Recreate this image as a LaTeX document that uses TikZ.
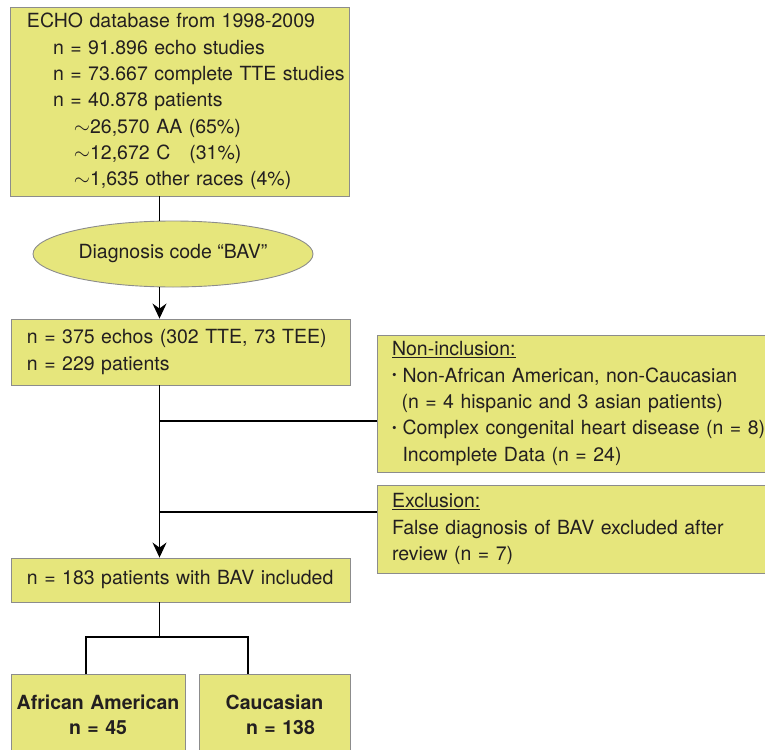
\documentclass[tikz,border=0pt]{standalone}
\usepackage{fontspec}
\setmainfont{TeX Gyre Heros}
\usetikzlibrary{shapes.geometric,arrows.meta}
\definecolor{boxfill}{RGB}{230,230,124}
\definecolor{boxline}{RGB}{140,140,140}
\definecolor{ink}{RGB}{35,31,32}
\newcommand{\smbul}{\makebox[10.5pt][l]{\raisebox{2.2pt}{\fontsize{13}{13}\selectfont\textbullet}}}
\tikzset{
  flowbox/.style={draw=boxline,fill=boxfill,line width=0.9pt,rectangle,align=left,
    inner ysep=0pt,text=ink,font={\fontsize{19.5pt}{26.3pt}\selectfont}},
  groupbox/.style={flowbox,align=center,font={\fontsize{19.5pt}{25pt}\selectfont\bfseries}},
  link/.style={line width=1.2pt,black},
  linkarrow/.style={link,-{Stealth[length=15pt,width=14pt,inset=5pt]}}
}
\begin{document}
\begin{tikzpicture}[x=1pt,y=-1pt]
        \useasboundingbox (0,0) rectangle (765,749);

        \node[flowbox,minimum width=339pt,minimum height=189pt,text width=305pt,inner xsep=17pt]
            (echo) at (179.5,101.5) {\mbox{ECHO database from 1998-2009}\\
              \mbox{\hspace*{26pt}n = 91.896 echo studies}\\
              \mbox{\hspace*{26pt}n = 73.667 complete TTE studies}\\
              \mbox{\hspace*{26pt}n = 40.878 patients}\\
              \mbox{\hspace*{47pt}$\sim$26,570 AA (65\%)}\\
              \mbox{\hspace*{47pt}$\sim$12,672 C\hspace*{19pt}(31\%)}\\
              \mbox{\hspace*{47pt}$\sim$1,635 other races (4\%)}};
        \node[flowbox,ellipse,align=center,inner sep=0pt,minimum width=280pt,minimum height=66pt]
            (bav) at (173,254) {Diagnosis code “BAV”};
        \node[flowbox,minimum width=339pt,minimum height=66pt,text width=307pt,inner xsep=16pt]
            (echos) at (180.5,352) {\mbox{n = 375 echos (302 TTE, 73 TEE)}\\n = 229 patients};
        \node[flowbox,minimum width=390pt,minimum height=137pt,text width=360pt,inner xsep=15pt]
            (noninc) at (572,403.5) {\underline{Non-inclusion:}\\
              \mbox{\smbul Non-African American, non-Caucasian}\\
              \mbox{\hspace*{9.5pt}(n = 4 hispanic and 3 asian patients)}\\
              \mbox{\smbul Complex congenital heart disease (n = 8)}\\
              \mbox{\hspace*{10.5pt}Incomplete Data (n = 24)}};
        \node[flowbox,minimum width=390pt,minimum height=88pt,text width=360pt,inner xsep=15pt]
            (excl) at (572,529) {\underline{Exclusion:}\\
              \mbox{False diagnosis of BAV excluded after}\\
              review (n = 7)};
        \node[flowbox,minimum width=339pt,minimum height=44pt,text width=307pt,inner xsep=16pt]
            (incl) at (180.5,580) {\mbox{n = 183 patients with BAV included}};
        \node[groupbox,minimum width=174pt,minimum height=81pt,text width=170pt,inner xsep=2pt]
            (afram) at (98,714.5) {African American\\n = 45};
        \node[groupbox,minimum width=151pt,minimum height=81pt,text width=147pt,inner xsep=2pt]
            (cauc) at (274.5,714.5) {Caucasian\\\hspace*{12pt}n = 138};

        \coordinate (spine) at (159.5,0);
        \coordinate (cut1)  at (159.5,421);
        \coordinate (cut2)  at (159.5,512);
        \coordinate (split) at (159.5,637);
        \coordinate (aatop) at (86,674);
        \coordinate (ctop)  at (248,674);

        \draw[link] (echo.south -| spine) -- (bav.north -| spine);
        \draw[linkarrow] (bav.south -| spine) -- (echos.north -| spine);
        \draw[linkarrow] (echos.south -| spine) -- (incl.north -| spine);
        \draw[link] (cut1) -- (cut1 -| noninc.west);
        \draw[link] (cut2) -- (cut2 -| excl.west);
        \draw[link] (incl.south -| spine) -- (split);
        \draw[link] (aatop) |- (split) -| (ctop);
\end{tikzpicture}
\end{document}
